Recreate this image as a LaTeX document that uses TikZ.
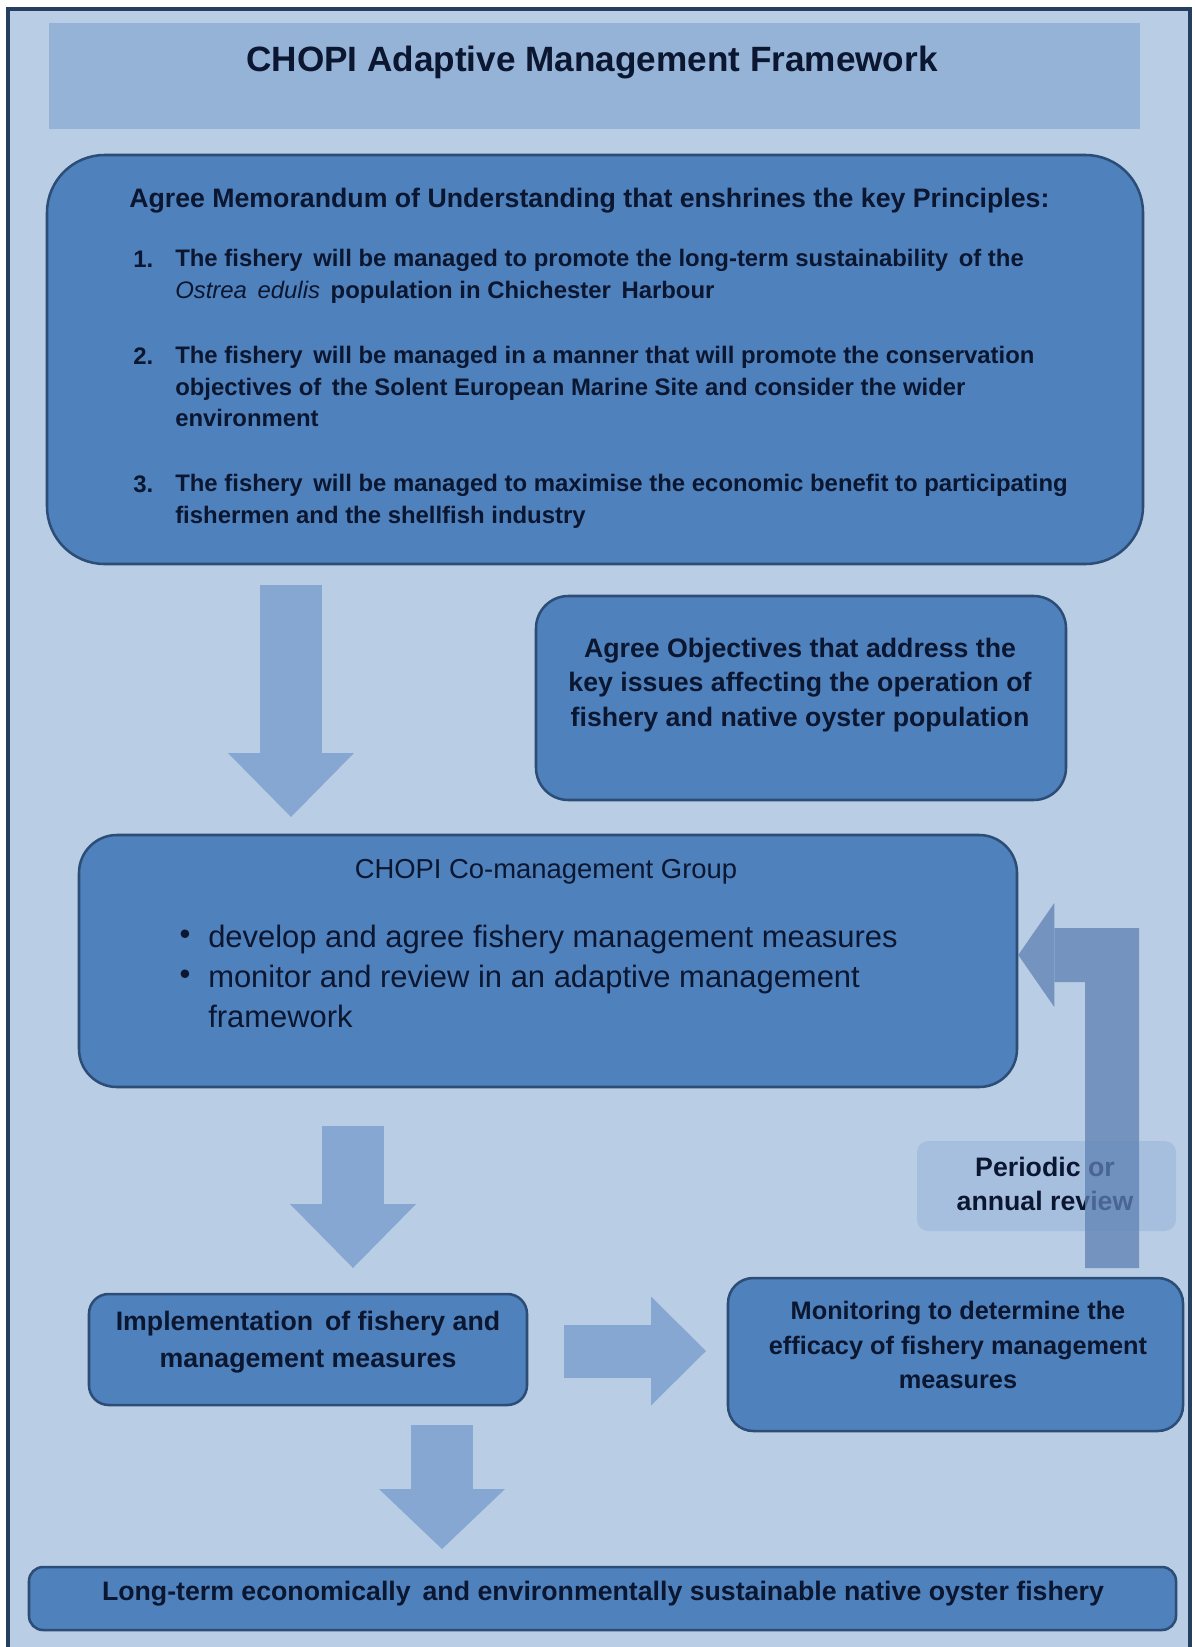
\documentclass[tikz,border=0pt]{standalone}
\usepackage{fontspec}
\setmainfont{Liberation Sans}
\usetikzlibrary{positioning,arrows.meta,fit}
\definecolor{cBack}{HTML}{B9CDE5}
\definecolor{cFrame}{HTML}{243F60}
\definecolor{cBand}{HTML}{95B3D7}
\definecolor{cBox}{HTML}{4F81BD}
\definecolor{cEdge}{HTML}{2C4D75}
\definecolor{cArrow}{HTML}{86A7D2}
\definecolor{cLoop}{HTML}{5E81B3}
\definecolor{cTag}{HTML}{A7BFDF}
\definecolor{cInk}{HTML}{0B1630}

\begin{document}
\begin{tikzpicture}[x=0.25mm,y=-0.25mm,
      box/.style={draw=cEdge,fill=cBox,line width=1.8pt,inner sep=0pt},
      txt/.style={text=cInk,inner sep=0pt,align=center,
                  font=\fontsize{19pt}{24.7pt}\selectfont\bfseries},
      itm/.style={txt,align=left,font=\fontsize{17pt}{22.4pt}\selectfont\bfseries},
      bul/.style={txt,align=left,font=\fontsize{22pt}{28.4pt}\selectfont},
      fat/.style={cArrow,line width=15.5mm,-{Triangle[length=16mm,width=31.5mm,line width=0pt]}}]
    \useasboundingbox (0,0) rectangle (1195,1647);
    \clip (0,0) rectangle (1195,1647);
    \draw[cFrame,fill=cBack,line width=2.5pt] (8,9) rectangle (1190,1700);
    \node[fill=cBand,inner sep=0pt,fit={(49,23) (1140,129)}] (band) {};
    \node[txt,font=\fontsize{25pt}{30pt}\selectfont\bfseries] (title) at (592,62)
      {CHOPI Adaptive Management Framework};
    % principles
    \node[box,rounded corners=41pt,fit={(47,155) (1143,564)}] (mou) {};
    \node[txt,anchor=west] (mouhead) at (129,201)
      {Agree Memorandum of Understanding that enshrines the key Principles:};
    \node[itm,anchor=west] (n1) at (133,259) {1.};
    \node[itm,anchor=north west] (p1) at (175,249)
      {The fishery\, will be managed to promote the long-term sustainability\, of the\\
       \textnormal{\textit{Ostrea\, edulis}}\, population in Chichester\, Harbour};
    \node[itm,anchor=west] (n2) at (133,356) {2.};
    \node[itm,anchor=north west] (p2) at (175,346)
      {The fishery\, will be managed in a manner that will promote the conservation\\
       objectives of\, the Solent European Marine Site and consider the wider\\
       environment};
    \node[itm,anchor=west] (n3) at (133,484) {3.};
    \node[itm,anchor=north west] (p3) at (175,474)
      {The fishery\, will be managed to maximise the economic benefit to participating\\
       fishermen and the shellfish industry};
    % objectives
    \node[box,rounded corners=23pt,fit={(536,596) (1066,800)}] (obj) {};
    \node[txt] (objtext) at (800,685)
      {Agree Objectives that address the\\key issues affecting the operation of\\fishery and native oyster population};
    % co-management group
    \node[box,rounded corners=27pt,fit={(79,835) (1017,1087)}] (comg) {};
    \node[txt,font=\fontsize{19.5pt}{23pt}\selectfont] (comgtitle) at (546,872) {CHOPI Co-management Group};
    \node[bul] (b1) at (185,937) {\textbullet};
    \node[bul] (b2) at (185,977) {\textbullet};
    \node[bul,anchor=north west] (comgtext) at (208,925)
      {develop and agree fishery management measures\\
       monitor and review in an adaptive management\\framework};
    % implementation, monitoring, outcome
    \node[box,rounded corners=14pt,fit={(89,1294) (527,1405)}] (impl) {};
    \node[txt,font=\fontsize{19pt}{26pt}\selectfont\bfseries] (impltext) at (308,1342)
      {Implementation\, of fishery and\\management measures};
    \node[box,rounded corners=18pt,fit={(728,1278) (1183,1431)}] (mon) {};
    \node[txt,font=\fontsize{18pt}{24.7pt}\selectfont\bfseries] (montext) at (958,1345)
      {Monitoring to determine the\\efficacy of fishery management\\measures};
    \node[box,rounded corners=10pt,fit={(29,1567) (1176,1630)}] (goal) {};
    \node[txt] (goaltext) at (603,1594)
      {Long-term economically\, and environmentally sustainable native oyster fishery};
    % block arrows
    \coordinate (a1s) at (291,585);  \coordinate (a1e) at (291,817);
    \coordinate (a2s) at (353,1126); \coordinate (a2e) at (353,1268);
    \coordinate (a3s) at (442,1425); \coordinate (a3e) at (442,1549);
    \coordinate (a4s) at (564,1351); \coordinate (a4e) at (706,1351);
    \draw[fat] (a1s) -- (a1e);
    \draw[fat] (a2s) -- (a2e);
    \draw[fat,-{Triangle[length=15mm,width=31.5mm,line width=0pt]}] (a3s) -- (a3e);
    \draw[fat,line width=13.25mm,-{Triangle[length=13.75mm,width=27.25mm,line width=0pt]}] (a4s) -- (a4e);
    % review loop
    \node[fill=cTag,rounded corners=8pt,inner sep=0pt,fit={(917,1141) (1176,1231)}] (tag) {};
    \node[txt] (tagtext) at (1045,1184) {Periodic or\\annual review};
    \coordinate (loop) at (1112,1268);
    \begin{scope}[transparency group,opacity=0.75]
      \draw[cLoop,line width=13.5mm,-{Triangle[length=9mm,width=26mm,line width=0pt]}]
        (loop) |- ([yshift=1.5mm]comg.east);
    \end{scope}
  \end{tikzpicture}
\end{document}
